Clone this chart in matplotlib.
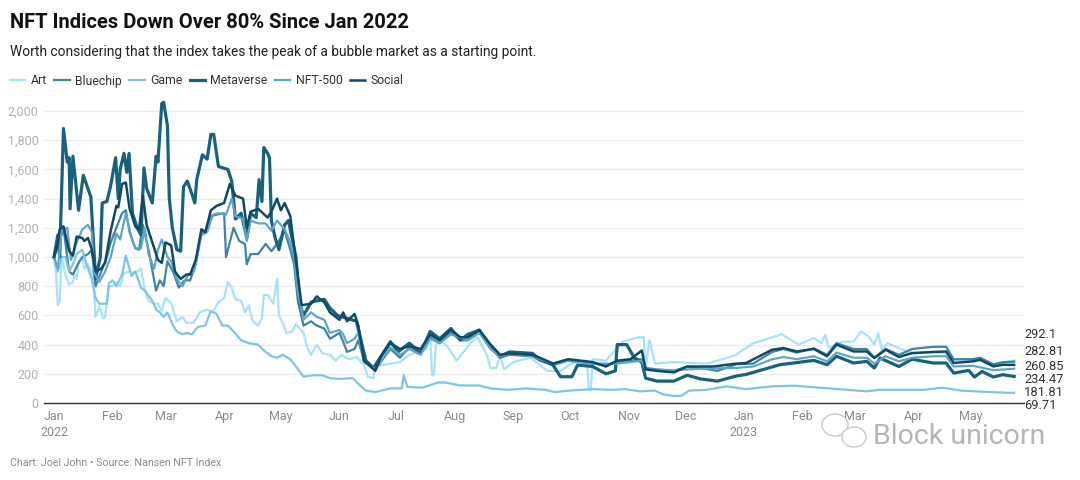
"""NFT Indices"""

#Set Up
import pandas as pd
from matplotlib import pyplot as plt
from matplotlib.patches import Ellipse

plt.rcParams['font.family'] = ['Roboto', 'DejaVu Sans']

# Series values below here, days counted from the first of January 2022
art_days = [0, 1, 2, 3, 4, 6, 8, 10, 11, 12, 13, 15, 16, 18, 20, 21, 22, 24, 26, 27, 29, 31, 33, 35, 37, 40, 43, 46, 48, 50, 53, 55, 57, 59, 62, 65, 68, 70, 74, 77, 81, 84, 87, 90, 92, 94, 96, 99, 101, 103, 105, 108, 110, 111, 113, 115, 116, 118, 119, 121, 123, 126, 128, 132, 134, 136, 139, 142, 146, 149, 152, 156, 160, 164, 166, 169, 170, 174, 183, 188, 197, 199, 200, 201, 202, 204, 208, 213, 221, 224, 229, 231, 234, 236, 238, 243, 252, 261, 268, 275, 282, 283, 284, 285, 292, 301, 309, 312, 313, 315, 318, 328, 345, 354, 361, 363, 370, 379, 385, 388, 394, 402, 406, 408, 410, 417, 423, 427, 431, 434, 436, 438, 441, 449, 455, 465, 472, 476, 490, 497, 508]
art_values = [1000, 900, 670, 700, 1000, 880, 810, 830, 880, 850, 960, 1000, 920, 950, 900, 800, 590, 660, 580, 590, 800, 800, 830, 800, 890, 900, 890, 920, 780, 700, 680, 680, 630, 720, 680, 560, 590, 550, 550, 620, 640, 620, 690, 720, 830, 790, 710, 700, 620, 670, 560, 530, 580, 740, 740, 700, 680, 850, 600, 550, 480, 490, 540, 480, 380, 330, 400, 340, 330, 290, 330, 300, 315, 260, 180, 170, 260, 260, 280, 330, 370, 470, 190, 190, 400, 430, 390, 290, 420, 450, 330, 240, 240, 330, 230, 280, 310, 220, 220, 280, 290, 90, 90, 300, 290, 420, 450, 450, 230, 430, 270, 280, 270, 300, 330, 350, 410, 445, 472, 445, 400, 445, 410, 467, 376, 420, 420, 490, 455, 400, 478, 365, 410, 365, 340, 350, 340, 290, 300, 260, 292.1]

bluechip_days = [0, 3, 5, 8, 10, 13, 15, 18, 20, 22, 25, 28, 30, 33, 36, 38, 40, 43, 45, 47, 50, 54, 56, 58, 60, 63, 66, 69, 72, 75, 78, 81, 83, 86, 90, 91, 95, 98, 101, 102, 104, 108, 112, 115, 118, 122, 125, 127, 129, 132, 136, 139, 143, 146, 151, 153, 155, 159, 161, 164, 170, 178, 183, 188, 194, 199, 204, 210, 215, 219, 225, 231, 236, 241, 253, 257, 264, 272, 285, 292, 298, 305, 311, 313, 319, 328, 335, 342, 351, 361, 370, 380, 386, 393, 402, 409, 414, 423, 430, 434, 440, 447, 454, 465, 472, 476, 486, 490, 497, 502, 508]
bluechip_values = [1000, 1100, 1200, 900, 880, 960, 1000, 1020, 1050, 800, 900, 1000, 1100, 1200, 1300, 1320, 1170, 1060, 1050, 1220, 1050, 770, 840, 800, 970, 900, 790, 840, 840, 950, 1170, 1180, 1280, 1290, 1300, 1000, 1200, 1110, 1090, 950, 1020, 1020, 1090, 1040, 1090, 1180, 1050, 950, 700, 530, 560, 530, 510, 440, 480, 420, 350, 370, 430, 290, 230, 370, 310, 380, 340, 450, 410, 480, 430, 430, 490, 380, 310, 330, 320, 290, 260, 290, 270, 260, 280, 290, 300, 240, 230, 220, 250, 240, 220, 265, 270, 350, 370, 345, 375, 330, 410, 370, 370, 310, 370, 330, 370, 385, 385, 300, 300, 310, 265, 280, 282.81]

game_days = [0, 2, 4, 6, 8, 10, 12, 15, 16, 18, 20, 22, 24, 26, 28, 29, 31, 33, 36, 38, 41, 43, 46, 48, 52, 54, 56, 58, 60, 63, 65, 68, 70, 73, 76, 80, 83, 86, 89, 92, 95, 99, 103, 108, 111, 115, 118, 121, 125, 128, 132, 137, 142, 146, 151, 158, 162, 165, 170, 178, 184, 185, 187, 195, 203, 207, 215, 225, 231, 240, 250, 260, 265, 273, 285, 295, 302, 310, 318, 322, 328, 332, 336, 345, 356, 366, 380, 392, 410, 430, 437, 460, 470, 480, 495, 505, 508]
game_values = [1000, 900, 1000, 1000, 900, 950, 1020, 1050, 1000, 920, 850, 720, 680, 680, 680, 820, 840, 800, 880, 1010, 870, 900, 790, 770, 700, 640, 620, 590, 620, 530, 490, 470, 480, 470, 520, 530, 630, 610, 530, 530, 490, 430, 410, 400, 360, 320, 310, 330, 300, 250, 180, 190, 190, 170, 165, 170, 120, 85, 75, 100, 100, 190, 110, 105, 140, 140, 120, 120, 100, 90, 100, 90, 75, 85, 95, 90, 95, 80, 85, 60, 48, 50, 85, 90, 114, 95, 114, 118, 100, 80, 90, 90, 105, 85, 75, 70, 69.71]

metaverse_days = [0, 2, 3, 5, 7, 8, 8.5, 10, 13, 15.5, 19.5, 22, 24.5, 25.5, 28, 30, 32.6, 34, 35, 37, 38.5, 39.7, 41.5, 44, 46, 47.6, 49, 52, 54, 55, 57, 58, 60, 61, 62.6, 65, 67, 68.5, 70.5, 73, 74.5, 75.5, 78.5, 81, 83, 84.5, 87, 92, 94, 96, 99, 102, 104, 107, 108.5, 110, 111, 113, 114, 115, 117, 119, 122, 124, 128, 130, 132, 136, 139, 143, 146, 150, 155, 160, 165, 169, 178, 182, 188, 194, 199, 204, 210, 215, 219, 225, 231, 236, 241, 253, 257, 264, 268, 274, 277, 285, 292, 297, 298, 303, 307, 311, 313, 319, 328, 335, 342, 351, 361, 366, 384, 402, 409, 414, 423, 430, 434, 437, 447, 454, 465, 472, 476, 484, 487, 491, 497, 502, 508]
metaverse_values = [1000, 1150, 1000, 1880, 1650, 1680, 1330, 1690, 1320, 1560, 1410, 850, 1000, 1370, 1380, 1490, 1680, 1400, 1600, 1710, 1580, 1710, 1300, 1200, 1150, 1610, 1470, 1370, 1690, 1650, 2050, 2060, 1900, 1400, 1200, 1050, 1040, 1480, 1520, 1430, 1370, 1530, 1700, 1670, 1840, 1840, 1620, 1600, 1520, 1260, 1300, 1130, 1300, 1270, 1530, 1380, 1750, 1710, 1680, 1250, 1130, 1050, 1220, 1250, 1000, 680, 600, 690, 700, 710, 650, 600, 580, 560, 290, 240, 420, 350, 410, 340, 490, 440, 510, 430, 470, 500, 380, 320, 350, 340, 300, 260, 180, 180, 260, 250, 200, 220, 400, 400, 310, 280, 170, 150, 150, 190, 165, 150, 185, 195, 262, 292, 262, 320, 274, 285, 240, 308, 250, 300, 274, 274, 205, 223, 178, 216, 178, 194, 181.81]

nft500_days = [0, 2, 4, 7, 9, 12, 15, 18, 20, 21, 24, 27, 30, 33, 35, 38, 41, 43, 46, 48, 50, 53, 55, 57, 60, 62, 65, 68, 71, 74, 78, 81, 84, 87, 91, 94, 96, 100, 102, 104, 108, 112, 115, 118, 122, 125, 127, 129, 132, 136, 139, 143, 146, 151, 153, 155, 159, 161, 164, 170, 178, 183, 188, 194, 199, 204, 210, 219, 225, 231, 236, 241, 253, 264, 272, 285, 298, 311, 313, 328, 342, 361, 370, 380, 386, 393, 402, 409, 414, 423, 430, 434, 440, 447, 454, 465, 472, 476, 486, 497, 508]
nft500_values = [1000, 920, 1180, 1200, 980, 1100, 1190, 1220, 1170, 900, 830, 900, 1000, 1160, 1120, 1300, 1130, 1060, 1060, 1200, 1020, 920, 1050, 1120, 1000, 970, 850, 800, 880, 900, 1150, 1170, 1290, 1300, 1290, 1400, 1280, 1260, 1110, 1250, 1230, 1230, 1180, 1250, 1190, 1100, 1000, 760, 570, 620, 590, 570, 480, 500, 470, 410, 440, 480, 280, 230, 380, 330, 370, 330, 440, 410, 470, 430, 480, 370, 320, 340, 320, 270, 290, 270, 270, 290, 230, 225, 235, 240, 250, 300, 315, 300, 320, 285, 345, 310, 310, 270, 320, 285, 310, 320, 320, 250, 255, 225, 234.47]

social_days = [0, 2, 3, 5, 8, 10, 12, 15, 16, 18, 20, 22, 25, 27, 30, 33, 34, 36, 38, 40, 43, 45, 47, 49, 52, 55, 57, 59, 62, 64, 67, 70, 72, 75, 78, 80, 83, 86, 90, 93, 96, 100, 102, 104, 108, 113, 115, 118, 120, 122, 125, 127, 130, 131, 136, 139, 143, 146, 151, 153, 155, 159, 161, 164, 170, 173, 178, 183, 188, 194, 199, 204, 210, 215, 219, 225, 231, 236, 241, 253, 257, 264, 272, 285, 292, 298, 305, 311, 313, 319, 328, 335, 342, 349, 361, 366, 380, 386, 393, 402, 409, 414, 423, 430, 434, 440, 447, 454, 465, 472, 476, 486, 490, 497, 502, 508]
social_values = [1000, 1100, 1190, 1210, 1040, 1010, 1140, 1130, 1110, 1130, 1050, 900, 920, 960, 1180, 1350, 1340, 1500, 1510, 1330, 1210, 1190, 1420, 1220, 1100, 980, 960, 1100, 1080, 900, 850, 880, 880, 980, 1190, 1170, 1320, 1350, 1370, 1500, 1420, 1400, 1200, 1310, 1330, 1270, 1310, 1400, 1320, 1370, 1280, 1070, 770, 670, 680, 730, 690, 620, 570, 620, 560, 610, 530, 290, 220, 320, 410, 370, 390, 370, 470, 430, 500, 450, 450, 500, 400, 330, 340, 330, 310, 270, 300, 280, 250, 290, 300, 360, 230, 220, 210, 250, 250, 250, 270, 273, 365, 376, 353, 370, 320, 400, 353, 353, 308, 365, 315, 342, 349, 353, 274, 285, 296, 251, 262, 260.85]

# Names, colours and widths, in the order they are drawn
series = [('Art', art_days, art_values, '#a8e1fb', 1.6),
          ('Bluechip', bluechip_days, bluechip_values, '#3f84a4', 1.6),
          ('Game', game_days, game_values, '#7cc5e8', 1.6),
          ('Metaverse', metaverse_days, metaverse_values, '#19627e', 2.3),
          ('NFT-500', nft500_days, nft500_values, '#5fa6c6', 1.6),
          ('Social', social_days, social_values, '#0e4a66', 1.8)]
start = pd.Timestamp('2022-01-01')

end_labels = ['292.1', '282.81', '260.85', '234.47', '181.81', '69.71']
end_label_y = [472, 356, 253, 164, 75, -14]  # spread out so they do not overlap

month_starts = pd.date_range('2022-01-01', '2023-05-01', freq='MS')
month_labels = ['Jan\n2022', 'Feb', 'Mar', 'Apr', 'May', 'Jun', 'Jul', 'Aug', 'Sep', 'Oct', 'Nov', 'Dec',
                'Jan\n2023', 'Feb', 'Mar', 'Apr', 'May']

#Chart
fig = plt.figure(figsize=(10.8, 4.8), dpi=100)
ax = fig.add_axes([44 / 1080, 77 / 480, 980 / 1080, 306.6 / 480])
for name, days, values, colour, width in series:
    dates = start + pd.to_timedelta(days, unit='D')
    ax.plot(dates, values, color=colour, linewidth=width, label=name, solid_joinstyle='round')

ax.set_xlim(start - pd.Timedelta(days=5.3), start + pd.Timedelta(days=513.2))
ax.set_ylim(0, 2100)
ax.set_yticks(range(0, 2001, 200))
ax.set_yticklabels(['{:,}'.format(v) for v in range(0, 2001, 200)], fontsize=9, color='#b0b0b0')
ax.set_xticks(month_starts)
ax.set_xticklabels(month_labels, fontsize=9, color='#8a8a8a', linespacing=1.35)
ax.tick_params(axis='both', length=0)
ax.tick_params(axis='y', pad=4)
ax.tick_params(axis='x', pad=5)
ax.grid(axis='y', color='#ececec', linewidth=1)
ax.set_axisbelow(True)
for side in ['top', 'left', 'right']:
    ax.spines[side].set_visible(False)
ax.spines['bottom'].set_color('#333333')
ax.spines['bottom'].set_linewidth(1)

# Values at the line ends
for label, y in zip(end_labels, end_label_y):
    ax.text(1.0, y, label, transform=ax.get_yaxis_transform(), fontsize=9.3, color='#333333',
            va='center', ha='left', clip_on=False)

fig.text(10 / 1080, 1 - 22 / 480, 'NFT Indices Down Over 80% Since Jan 2022', fontsize=14.5, fontweight='bold',
         color='#111111', va='center')
fig.text(10 / 1080, 1 - 52 / 480, 'Worth considering that the index takes the peak of a bubble market as a starting point.',
         fontsize=9.9, color='#222222', va='center')
fig.text(10 / 1080, 1 - 463 / 480, 'Chart: Joel John • Source: Nansen NFT Index', fontsize=7.7, color='#8a8a8a', va='center')

fig.legend(loc='center left', bbox_to_anchor=(10 / 1080, 1 - 81 / 480), ncol=6, frameon=False, fontsize=8.8,
           handlelength=1.25, handletextpad=0.45, columnspacing=0.6, borderpad=0, borderaxespad=0,
           labelcolor='#333333')

# Watermark
fig.text(873 / 1080, 1 - 436 / 480, 'Block unicorn', fontsize=20.5, color='#b5b5b5', va='center', ha='left')
for x, y, w, h in [(835, 425, 26, 22), (854, 437, 24, 20)]:
    fig.add_artist(Ellipse((x / 1080, 1 - y / 480), w / 1080, h / 480, transform=fig.transFigure,
                           facecolor='white', edgecolor='#c8c8c8', linewidth=1))

plt.savefig('out.png', dpi=100)
